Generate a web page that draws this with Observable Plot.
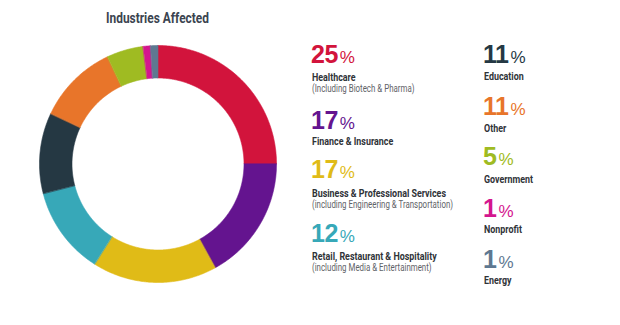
<!DOCTYPE html>
<html>
<head>
<meta charset="utf-8">
<script src="https://cdn.jsdelivr.net/npm/d3@7"></script>
<script src="https://cdn.jsdelivr.net/npm/@observablehq/plot@0.6"></script>
<style>
  html, body { margin: 0; padding: 0; background: #fff; }
  #wrap { position: relative; width: 620px; height: 325px; overflow: hidden; }
  #chart { position: absolute; left: 0; top: 0; }
  .title { position: absolute; font-family: Roboto, "Liberation Sans", sans-serif;
    font-weight: bold; font-size: 15px; line-height: 15px; color: #3b4450; white-space: nowrap;
    transform-origin: 0 0; }
  .num { position: absolute; font-family: "Liberation Sans", Arial, sans-serif; font-weight: bold;
    font-size: 25px; line-height: 25px; white-space: nowrap; letter-spacing: -0.5px; }
  .num span { font-weight: normal; font-size: 17px; margin-left: 2px; letter-spacing: 0; }
  .lab { position: absolute; font-family: Roboto, "Liberation Sans", sans-serif;
    white-space: nowrap; transform-origin: 0 0; }
  .lab.main { color: #2f3338; font-weight: bold; font-size: 11px; line-height: 11px; }
  .lab.sub { color: #5f6368; font-weight: normal; font-size: 10.5px; line-height: 10.5px; }
</style>
</head>
<body>
<div id="wrap"><div id="chart"></div></div>
<script>
const title = "Industries Affected";
const names = ["Healthcare", "Finance & Insurance", "Business & Professional Services",
  "Retail, Restaurant & Hospitality", "Education", "Other", "Government", "Nonprofit", "Energy"];
const values = [25, 17, 17, 12, 11, 11, 5, 1, 1];
const colors = ["#d2143c", "#64148f", "#e0bb17", "#37a8b8", "#253843", "#e8752a", "#9fbb22", "#d4168e", "#5e7891"];
const subLabels = ["(Including Biotech & Pharma)", "", "(including Engineering & Transportation)",
  "(including Media & Entertainment)", "", "", "", "", ""];

// donut geometry (page pixels)
const W = 620, H = 325, cx = 157.5, cy = 163.5, R = 118.5, r0 = 86;

const pie = d3.pie().sort(null).value(d => d.value)(names.map((n, i) => ({name: n, value: values[i]})));
const pts = [];
for (const s of pie) {
  const n = Math.max(4, Math.ceil((s.endAngle - s.startAngle) / 0.01));
  for (let k = 0; k <= n; k++) {
    const a = s.startAngle + (s.endAngle - s.startAngle) * k / n;
    pts.push({name: s.data.name, x: Math.sin(a), y: Math.cos(a)});
  }
  for (let k = n; k >= 0; k--) {
    const a = s.startAngle + (s.endAngle - s.startAngle) * k / n;
    pts.push({name: s.data.name, x: (r0 / R) * Math.sin(a), y: (r0 / R) * Math.cos(a)});
  }
}

const plot = Plot.plot({
  width: W, height: H, margin: 0,
  x: {domain: [-cx / R, (W - cx) / R], axis: null},
  y: {domain: [-(H - cy) / R, cy / R], axis: null},
  color: {domain: names, range: colors},
  marks: [
    Plot.line(pts, {x: "x", y: "y", z: "name", fill: "name", stroke: "name", strokeWidth: 0.6, curve: "linear-closed"})
  ]
});
document.getElementById("chart").appendChild(plot);

const wrap = document.getElementById("wrap");

function place(el, left, baseline, fs) {
  el.style.left = left + "px";
  el.style.top = (baseline - 0.85 * fs) + "px";
  wrap.appendChild(el);
}
function measure(text, cls) {
  const el = document.createElement("div");
  el.className = cls; el.textContent = text; el.style.visibility = "hidden";
  wrap.appendChild(el);
  const w = el.getBoundingClientRect().width;
  wrap.removeChild(el);
  return w;
}
// condensed look: horizontal squeeze matched to reference text widths
const kMain = 134 / measure(names[2], "lab main");
const kSub = 141 / measure(subLabels[2], "lab sub");
const kTitle = 103 / measure(title, "title");

const t = document.createElement("div");
t.className = "title"; t.textContent = title;
t.style.transform = `scaleX(${kTitle})`;
place(t, 106, 24, 15);

// legend layout: [left, numberBaseline, labelBaseline, subBaseline]
const layout = [
  [311, 63, 81, 93], [311, 129, 145, 0], [311, 178, 197, 209], [311, 242, 260, 272],
  [483, 63, 80, 0], [483, 115, 132, 0], [483, 165, 183, 0], [483, 217, 233, 0], [483, 268, 284, 0]
];
names.forEach((n, i) => {
  const [left, nb, lb, sb] = layout[i];
  const num = document.createElement("div");
  num.className = "num"; num.style.color = colors[i];
  num.innerHTML = values[i] + "<span>%</span>";
  place(num, left, nb, 25);
  const lab = document.createElement("div");
  lab.className = "lab main"; lab.textContent = n;
  lab.style.transform = `scaleX(${kMain})`;
  place(lab, left + 1, lb, 11);
  if (subLabels[i]) {
    const sub = document.createElement("div");
    sub.className = "lab sub"; sub.textContent = subLabels[i];
    sub.style.transform = `scaleX(${kSub})`;
    place(sub, left + 1, sb, 10.5);
  }
});
</script>
</body>
</html>
